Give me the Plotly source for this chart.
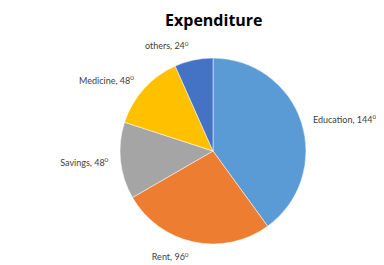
import plotly.graph_objects as go

categories = ["Education", "Rent", "Savings", "Medicine", "others"]
angles = [144, 96, 48, 48, 24]
colors = ["#5B9BD5", "#ED7D31", "#A5A5A5", "#FFC000", "#4472C4"]

W, H = 384, 265
cx, cy, r = 205, 143, 93   # pie centre / radius in px
r_lab = 102                # radius used for placing the outside labels


def dom(rad):
    return dict(x=[(cx - rad) / W, (cx + rad) / W],
                y=[1 - (cy + rad) / H, 1 - (cy - rad) / H])


fig = go.Figure()
# invisible ring carrying the outside labels, slightly larger than the pie
fig.add_trace(go.Pie(
    labels=categories, values=angles, sort=False, direction="clockwise", rotation=0,
    marker=dict(colors=["rgba(0,0,0,0)"] * len(categories), line=dict(width=0)),
    texttemplate="%{label}, %{value}<sup>0</sup>",
    textposition="outside",
    textfont=dict(family="Lato", size=9, color="#404040"),
    showlegend=False, domain=dom(r_lab), hoverinfo="skip",
))
fig.add_trace(go.Pie(
    labels=categories, values=angles, sort=False, direction="clockwise", rotation=0,
    marker=dict(colors=colors, line=dict(color="white", width=0.5)),
    textinfo="none",
    showlegend=False, domain=dom(r), hoverinfo="skip",
))

fig.update_layout(
    width=W, height=H,
    margin=dict(l=0, r=0, t=0, b=0),
    paper_bgcolor="white",
    plot_bgcolor="white",
    title=dict(text="<b>Expenditure</b>", x=0.536, xanchor="center", y=0.952, yanchor="middle",
               font=dict(family="Open Sans", size=16, color="#000000")),
)

fig.write_html("out.html")
